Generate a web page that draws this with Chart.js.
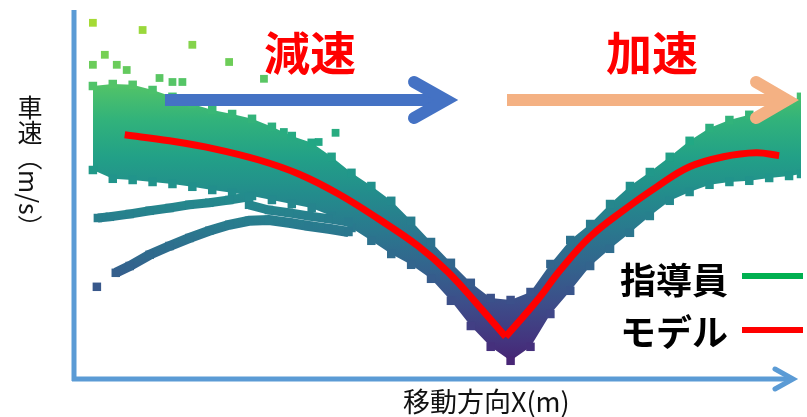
<!DOCTYPE html>
<html>
<head>
<meta charset="utf-8">
<script src="https://cdn.jsdelivr.net/npm/chart.js@4.4.1/dist/chart.umd.min.js"></script>
<style>
  html, body { margin: 0; padding: 0; background: #fff; }
  #wrap { position: relative; width: 807px; height: 417px; overflow: hidden;
          font-family: "Noto Sans CJK JP", "Noto Sans", sans-serif; }
  #chart { position: absolute; left: 0; top: 0; }
  .lbl { position: absolute; white-space: nowrap; line-height: 1; }
  .phase { font-size: 46px; font-weight: 700; color: #ff0000; top: 27px; }
  .ytitle { left: 17px; top: 95px; font-size: 25px; color: #111;
            writing-mode: vertical-rl; text-orientation: mixed; }
  .xtitle { left: 403px; top: 387px; font-size: 27px; color: #111; }
  .legend { left: 620px; font-size: 36px; font-weight: 700; color: #000; }
  .key { position: absolute; left: 742px; width: 61px; height: 6px; }
</style>
</head>
<body>
<div id="wrap">
  <canvas id="chart" width="807" height="417"></canvas>
  <div class="lbl phase" style="left:264px">減速</div>
  <div class="lbl phase" style="left:606px">加速</div>
  <div class="lbl ytitle">車速（m/s）</div>
  <div class="lbl xtitle">移動方向X(m)</div>
  <div class="lbl legend" style="top:260px">指導員</div>
  <div class="lbl legend" style="top:312px">モデル</div>
  <div class="key" style="top:273px;background:#00b050"></div>
  <div class="key" style="top:327px;background:#ff0000"></div>
</div>
<script>
// ── data (X in m, speed in m/s) ──
const X_MAX = 73.2;
const V_MAX = 9.2;

// 指導員: envelope of the dense point cloud
const bandX = [2, 4, 6, 8, 10, 12, 14, 16, 18, 20, 22, 24, 26, 28, 30, 32, 34, 36, 38, 40,
               42, 44, 46, 48, 50, 52, 54, 56, 58, 60, 62, 64, 66, 68, 70, 72, 73.2];
const bandTopV = [7.30, 7.35, 7.33, 7.20, 7.03, 6.85, 6.70, 6.60, 6.48, 6.28,
                  6.05, 5.88, 5.53, 5.13, 4.80, 4.43, 3.93, 3.40, 2.88, 2.38,
                  2.00, 1.95, 2.15, 2.85, 3.45, 3.85, 4.35, 4.80, 5.15, 5.53,
                  5.93, 6.25, 6.45, 6.58, 6.73, 6.90, 7.03];
const bandBottomV = [5.20, 4.98, 4.95, 4.90, 4.85, 4.78, 4.70, 4.63, 4.55, 4.45,
                     4.35, 4.25, 4.05, 3.75, 3.43, 3.10, 2.83, 2.48, 1.93, 1.30,
                     0.78, 0.43, 0.78, 1.60, 2.18, 2.80, 3.23, 3.63, 4.05, 4.43,
                     4.65, 4.83, 4.90, 4.93, 5.00, 5.05, 5.10];

// 指導員: slower runs that join the cloud later
const run2X = [2.5, 3.7, 5.7, 7.7, 9.7, 11.7, 13.7, 15.7, 17.7];
const run2V = [4.00, 4.03, 4.10, 4.18, 4.25, 4.33, 4.38, 4.45, 4.53];
const run3X = [2.4, 3.3, 4.3, 5.7, 7.7, 9.7, 11.7, 13.7, 15.7, 17.7, 19.7, 21.7, 23.7, 25.7, 27.7];
const run3V = [2.28, null, 2.63, 2.80, 3.08, 3.30, 3.50, 3.68, 3.83, 3.93, 3.95, 3.88, 3.80, 3.73, 3.65];
const run4X = [17.7, 19.7, 21.7, 23.7, 25.7, 27.7];
const run4V = [4.33, 4.20, 4.13, 4.05, 3.98, 3.90];

// 指導員: isolated fast points
const strayX = [2.0, 7.0, 12.0, 15.7, 19.2, 3.2, 4.4, 5.4, 2.0, 8.7, 10.0, 11.0, 26.4, 24.7, 21.2];
const strayV = [8.88, 8.70, 8.33, 7.90, 7.48, 8.08, 7.83, 7.70, 7.83, 7.50, 7.40, 7.40, 6.13, 5.90, 6.15];

// モデル
const modelDecelX = [5.2, 9.7, 14.2, 18.7, 22.7, 26.7, 30.7, 34.7, 37.7, 40.7, 43.5];
const modelDecelV = [6.08, 5.93, 5.73, 5.45, 5.10, 4.60, 3.98, 3.30, 2.65, 1.83, 1.03];
const modelAccelX = [43.5, 46.7, 49.0, 52.0, 55.4, 58.7, 62.0, 65.4, 68.7, 71.0];
const modelAccelV = [1.03, 1.95, 2.70, 3.53, 4.20, 4.78, 5.28, 5.53, 5.63, 5.56];

// ── colours ──
const VIRIDIS = [[68,1,84],[72,36,117],[65,68,135],[53,95,141],[42,120,142],[33,145,140],
                 [34,168,132],[68,191,112],[122,209,81],[189,223,38],[253,231,37]];

function viridis(t) {
  t = Math.min(1, Math.max(0, t)) * 10;
  const i = Math.min(9, Math.floor(t));
  const f = t - i;
  const a = VIRIDIS[i], b = VIRIDIS[i + 1];
  const c = a.map((v, k) => Math.round(v + (b[k] - v) * f));
  return `rgb(${c[0]},${c[1]},${c[2]})`;
}

function speedColor(v) {
  return viridis(0.0685 + 0.0896 * v);
}

function speedGradient(chart) {
  const y = chart.scales.y;
  if (!chart.chartArea || !y) return speedColor(4);
  const bottom = y.getPixelForValue(0);
  const top = y.getPixelForValue(V_MAX);
  const g = chart.ctx.createLinearGradient(0, bottom, 0, top);
  for (let i = 0; i <= 10; i++) g.addColorStop(i / 10, speedColor(V_MAX * i / 10));
  return g;
}

const pointColor = (ctx) => (ctx.raw && ctx.raw.y != null) ? speedColor(ctx.raw.y) : 'transparent';

function pts(xs, vs) {
  return xs.map((x, i) => ({ x: x, y: vs[i] }));
}

const squares = {
  pointStyle: 'rect',
  pointRadius: 6,
  pointBorderWidth: 0,
  pointBackgroundColor: pointColor,
};

// ── decorations: axes with arrow heads, phase arrows ──
function arrow(ctx, x0, xv, y, spread, color, width) {
  ctx.save();
  ctx.strokeStyle = color;
  ctx.lineWidth = width;
  ctx.lineCap = 'butt';
  ctx.beginPath();
  ctx.moveTo(x0, y);
  ctx.lineTo(xv, y);
  ctx.stroke();
  ctx.lineCap = 'round';
  ctx.lineJoin = 'miter';
  ctx.beginPath();
  ctx.moveTo(xv - spread[0], y - spread[1]);
  ctx.lineTo(xv, y);
  ctx.lineTo(xv - spread[0], y + spread[1]);
  ctx.stroke();
  ctx.restore();
}

const decorPlugin = {
  id: 'decor',
  afterDatasetsDraw(chart) {
    const ctx = chart.ctx;
    const a = chart.chartArea;
    // phase arrows
    arrow(ctx, 165, 446, 100, [32, 18], '#4472c4', 12);
    arrow(ctx, 507, 787, 100, [31, 18], '#f4b183', 12);
    // axes
    ctx.save();
    ctx.strokeStyle = '#5b9bd5';
    ctx.lineWidth = 5;
    ctx.beginPath();
    ctx.moveTo(a.left + 1, a.top);
    ctx.lineTo(a.left + 1, a.bottom + 3);
    ctx.stroke();
    ctx.restore();
    arrow(ctx, a.left - 1, a.right - 8, a.bottom + 1, [18, 10], '#5b9bd5', 5);
  }
};

const chart = new Chart(document.getElementById('chart'), {
  type: 'line',
  data: {
    datasets: [
      { label: 'モデル', data: pts(modelDecelX, modelDecelV), order: 0,
        borderColor: '#ff0000', borderWidth: 7, pointRadius: 0, tension: 0.4 },
      { label: 'モデル', data: pts(modelAccelX, modelAccelV), order: 0,
        borderColor: '#ff0000', borderWidth: 7, pointRadius: 0, tension: 0.4 },
      { label: '指導員', data: pts(strayX, strayV), order: 1, showLine: false, ...squares, pointRadius: 5.5 },
      { label: '指導員', data: pts(run2X, run2V), order: 2, borderWidth: 9,
        borderColor: (c) => speedGradient(c.chart), ...squares },
      { label: '指導員', data: pts(run3X, run3V), order: 2, borderWidth: 10,
        borderColor: (c) => speedGradient(c.chart), ...squares },
      { label: '指導員', data: pts(run4X, run4V), order: 2, borderWidth: 9,
        borderColor: (c) => speedGradient(c.chart), ...squares },
      { label: '指導員', data: pts(bandX, bandBottomV), order: 3, borderWidth: 0, fill: false, ...squares },
      { label: '指導員', data: pts(bandX, bandTopV), order: 3, borderWidth: 0, fill: '-1',
        backgroundColor: (c) => speedGradient(c.chart), ...squares },
    ]
  },
  options: {
    responsive: false,
    animation: false,
    devicePixelRatio: 1,
    events: [],
    layout: { padding: { left: 73, top: 10, right: 2, bottom: 39 } },
    scales: {
      x: { type: 'linear', min: 0, max: X_MAX, display: false },
      y: { min: 0, max: V_MAX, display: false }
    },
    plugins: {
      legend: { display: false },
      tooltip: { enabled: false }
    }
  },
  plugins: [decorPlugin]
});
</script>
</body>
</html>
